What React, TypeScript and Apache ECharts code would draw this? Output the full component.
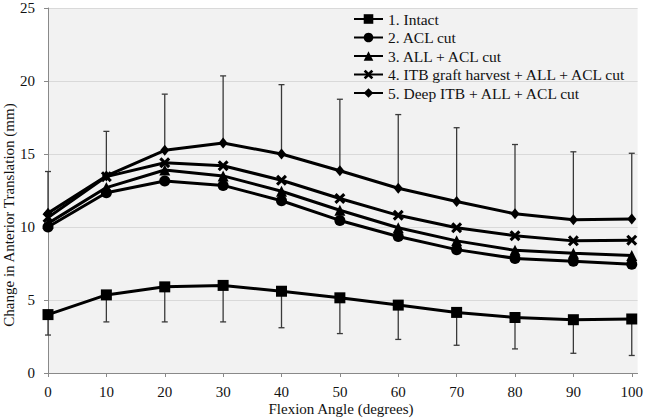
import React, { useEffect, useRef } from "react";
import * as echarts from "echarts";

const angles = [0, 10, 20, 30, 40, 50, 60, 70, 80, 90, 100];
const seriesNames = [
  "1. Intact",
  "2. ACL cut",
  "3. ALL + ACL cut",
  "4. ITB graft harvest + ALL + ACL cut",
  "5. Deep ITB + ALL + ACL cut",
];
const intact = [4.0, 5.35, 5.9, 6.0, 5.6, 5.15, 4.65, 4.15, 3.8, 3.65, 3.7];
const aclCut = [10.0, 12.35, 13.15, 12.85, 11.8, 10.45, 9.35, 8.45, 7.85, 7.65, 7.45];
const allAcl = [10.25, 12.7, 13.9, 13.5, 12.45, 11.15, 9.95, 9.05, 8.4, 8.2, 8.05];
const itbGraft = [10.65, 13.45, 14.4, 14.2, 13.2, 11.95, 10.8, 9.95, 9.4, 9.05, 9.1];
const deepItb = [10.95, 13.5, 15.25, 15.75, 15.0, 13.85, 12.65, 11.75, 10.9, 10.5, 10.55];
const deepItbUpper = [13.8, 16.55, 19.1, 20.35, 19.75, 18.75, 17.7, 16.8, 15.65, 15.15, 15.05];
const intactLower = [2.6, 3.5, 3.5, 3.5, 3.1, 2.7, 2.3, 1.9, 1.65, 1.35, 1.2];
const xTicks = [0, 10, 20, 30, 40, 50, 60, 70, 80, 90, 100];

const FONT = "Liberation Serif";
const X_PATH =
  "path://M2,0 L5,3 L8,0 L10,2 L7,5 L10,8 L8,10 L5,7 L2,10 L0,8 L3,5 L0,2 Z";

export default function App() {
  const ref = useRef<HTMLDivElement>(null);
  useEffect(() => {
    document.body.style.margin = "0";
    if (!ref.current) return;
    const chart = echarts.init(ref.current, undefined, { renderer: "svg" });
    const pair = (vals: number[]) => angles.map((a, i) => [a, vals[i]]);
    const errData = (means: number[], ends: number[]) =>
      angles.map((a, i) => [a, means[i], ends[i]]);
    const errorSeries = (name: string, data: number[][]) => ({
      type: "custom",
      name,
      z: 1,
      silent: true,
      data,
      encode: { x: 0, y: [1, 2] },
      renderItem: (params: any, api: any) => {
        const x = api.value(0);
        const p0 = api.coord([x, api.value(1)]);
        const p1 = api.coord([x, api.value(2)]);
        const style = { stroke: "#3a3a3a", lineWidth: 1.3 };
        return {
          type: "group",
          children: [
            { type: "line", shape: { x1: p0[0], y1: p0[1], x2: p1[0], y2: p1[1] }, style },
            { type: "line", shape: { x1: p1[0] - 3, y1: p1[1], x2: p1[0] + 3, y2: p1[1] }, style },
          ],
        };
      },
    });
    const lineSeries = (name: string, vals: number[], symbol: string, size: any) => ({
      type: "line",
      name,
      data: pair(vals),
      symbol,
      symbolSize: size,
      showAllSymbol: true,
      z: 3,
      lineStyle: { color: "#000", width: 3 },
      itemStyle: { color: "#000" },
    });
    const labelStyle = { fontFamily: FONT, fontSize: 15, color: "#111" };
    chart.setOption({
      animation: false,
      backgroundColor: "#fff",
      textStyle: { fontFamily: FONT, fontSize: 15, color: "#111" },
      grid: {
        left: 48,
        right: 6,
        top: 8,
        bottom: 46,
        show: true,
        backgroundColor: "#f2f2f2",
        borderWidth: 0,
      },
      legend: {
        orient: "vertical",
        left: 348,
        top: 6,
        itemWidth: 29,
        itemHeight: 12,
        itemGap: 2.5,
        data: seriesNames,
        textStyle: { fontFamily: FONT, fontSize: 15.5, color: "#111" },
      },
      xAxis: {
        type: "value",
        min: 0,
        max: 101,
        interval: 10,
        axisLine: { show: true, lineStyle: { color: "#898989", width: 1 } },
        axisTick: { show: true, length: 4, customValues: xTicks, lineStyle: { color: "#898989" } },
        axisLabel: { customValues: xTicks, margin: 11, ...labelStyle },
        splitLine: { show: false },
      },
      yAxis: {
        type: "value",
        min: 0,
        max: 25,
        interval: 5,
        axisLine: { show: true, lineStyle: { color: "#898989", width: 1 } },
        axisTick: { show: true, length: 4, lineStyle: { color: "#898989" } },
        axisLabel: { margin: 13, ...labelStyle },
        splitLine: { show: true, lineStyle: { color: "#d9d9d9", width: 1 } },
      },
      graphic: [
        {
          type: "text",
          x: 9,
          y: 215,
          rotation: Math.PI / 2,
          style: {
            text: "Change in Anterior Translation (mm)",
            fontFamily: FONT,
            fontSize: 15,
            fill: "#111",
            align: "center",
            verticalAlign: "middle",
          },
        },
        {
          type: "text",
          x: 341,
          y: 409,
          style: {
            text: "Flexion Angle (degrees)",
            fontFamily: FONT,
            fontSize: 15,
            fill: "#111",
            align: "center",
            verticalAlign: "middle",
          },
        },
      ],
      series: [
        errorSeries("err-intact", errData(intact, intactLower)),
        errorSeries("err-deep", errData(deepItb, deepItbUpper)),
        lineSeries(seriesNames[0], intact, "rect", 11),
        lineSeries(seriesNames[1], aclCut, "circle", 11),
        lineSeries(seriesNames[2], allAcl, "triangle", 11),
        lineSeries(seriesNames[3], itbGraft, X_PATH, 11),
        lineSeries(seriesNames[4], deepItb, "diamond", [9, 11]),
      ],
    });
    return () => chart.dispose();
  }, []);
  return <div ref={ref} style={{ width: 646, height: 419 }} />;
}
